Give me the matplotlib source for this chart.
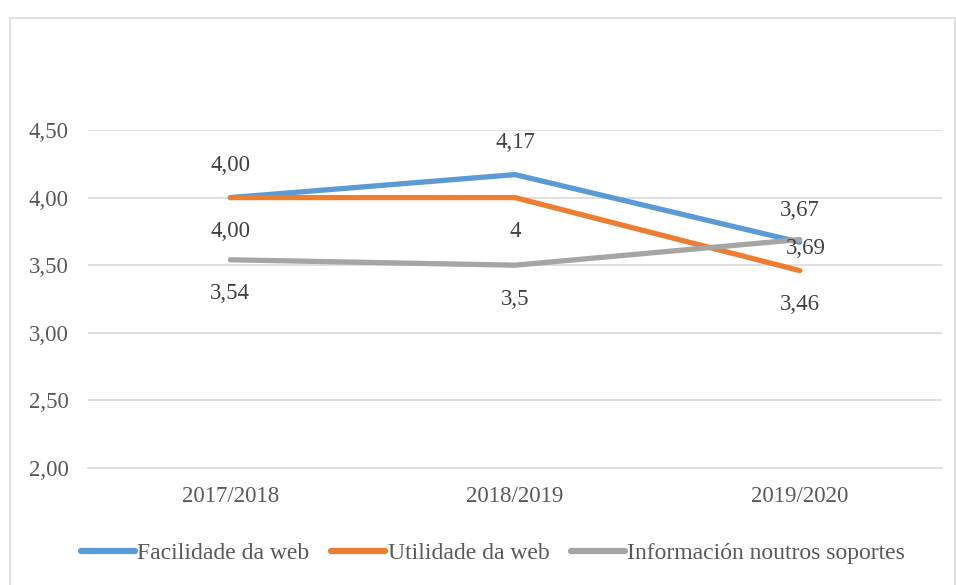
import matplotlib
matplotlib.use("Agg")
import matplotlib.pyplot as plt
from matplotlib.patches import Rectangle

categories = ["2017/2018", "2018/2019", "2019/2020"]
facilidade = [4.00, 4.17, 3.67]
utilidade = [4.00, 4.00, 3.46]
informacion = [3.54, 3.50, 3.69]
facilidade_lbl = ["4,00", "4,17", "3,67"]
utilidade_lbl = ["4,00", "4", "3,46"]
informacion_lbl = ["3,54", "3,5", "3,69"]
series_names = ["Facilidade da web", "Utilidade da web", "Información noutros soportes"]
yticks = [2.0, 2.5, 3.0, 3.5, 4.0, 4.5]
ytick_lbl = ["2,00", "2,50", "3,00", "3,50", "4,00", "4,50"]

plt.rcParams['font.family'] = ['Liberation Serif', 'DejaVu Serif']
W, H = 956, 585
fig = plt.figure(figsize=(W/100, H/100), dpi=100)
fig.patches.append(Rectangle((10/W, -0.01), (955-10)/W, 1 - 18/H + 0.01, transform=fig.transFigure,
                             fill=False, edgecolor="#D9D9D9", lw=1.2))
ax = fig.add_axes([88/W, 117/H, (942-88)/W, (468-130)/H])
x = list(range(len(categories)))
colors = ["#5B9BD5", "#ED7D31", "#A5A5A5"]
data = [facilidade, utilidade, informacion]
for d, c, n in zip(data, colors, series_names):
    ax.plot(x, d, color=c, lw=3.8, solid_capstyle="round", label=n, zorder=3)

txtc = "#404040"
fs = 16.5
for i in x:
    ax.annotate(facilidade_lbl[i], (i, facilidade[i]), xytext=(0, 32), textcoords="offset pixels",
                ha="center", va="center", fontsize=fs, color=txtc)
    ax.annotate(utilidade_lbl[i], (i, utilidade[i]), xytext=(0, -34), textcoords="offset pixels",
                ha="center", va="center", fontsize=fs, color=txtc)
for i in [0, 1]:
    ax.annotate(informacion_lbl[i], (i, informacion[i]), xytext=(0, -34), textcoords="offset pixels",
                ha="center", va="center", fontsize=fs, color=txtc)
ax.annotate(informacion_lbl[2], (2, informacion[2]), xytext=(6, -9), textcoords="offset pixels",
            ha="center", va="center", fontsize=fs, color=txtc, zorder=5)

ax.set_xlim(-0.5, 2.5)
ax.set_ylim(2.0, 4.5)
ax.set_yticks(yticks)
ax.set_yticklabels(ytick_lbl)
ax.set_xticks(x)
ax.set_xticklabels(categories)
ax.grid(axis="y", color="#D9D9D9", lw=1.2)
ax.set_axisbelow(True)
for s in ["top", "right", "left"]:
    ax.spines[s].set_visible(False)
ax.spines["bottom"].set_color("#D9D9D9")
ax.spines["bottom"].set_linewidth(1.2)
ax.tick_params(length=0, labelsize=fs, colors="#595959")
ax.tick_params(axis="y", pad=14)
ax.tick_params(axis="x", pad=13)
leg = fig.legend(loc="center", bbox_to_anchor=(493/W, 1 - 553/H), ncol=3, frameon=False,
                 fontsize=17, handlelength=2.3, handletextpad=0.1, columnspacing=0.9,
                 labelcolor="#595959")
for h in leg.get_lines():
    h.set_linewidth(4.5)
fig.savefig("out.png", dpi=100)
